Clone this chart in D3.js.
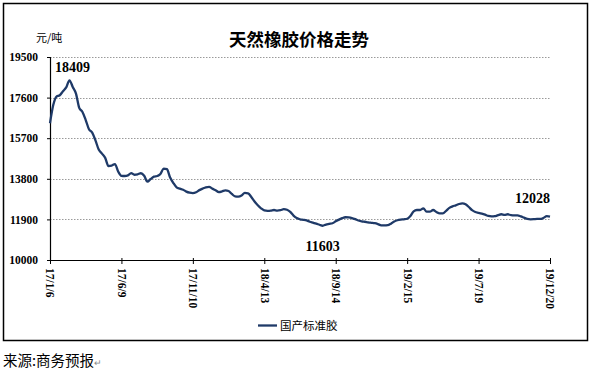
<!DOCTYPE html>
<html><head><meta charset="utf-8">
<script src="https://cdn.jsdelivr.net/npm/d3@7"></script>
<style>body{margin:0;background:#fff}svg{display:block}</style>
</head><body>
<svg id="c" width="591" height="371"></svg>
<script>
const startDate = "2017-01-06";
const prices = [
16400,17250,17650,17710,17900,18080,18409,18100,17790,17120,
16930,16550,16120,15960,15600,15170,14980,14780,14400,14420,
14490,14140,13940,13930,13960,14070,13990,14010,14060,13940,
13665,13790,13900,13930,14020,14280,14250,13860,13600,13400,
13340,13290,13200,13150,13130,13170,13270,13340,13400,13420,
13340,13260,13180,13210,13260,13230,13090,12980,12970,13020,
13140,13120,12950,12740,12560,12420,12320,12300,12310,12340,
12310,12330,12380,12350,12250,12080,11960,11905,11880,11850,
11790,11745,11700,11650,11603,11660,11690,11720,11810,11890,
11960,12000,11990,11960,11910,11850,11810,11790,11760,11740,
11720,11680,11625,11620,11630,11700,11800,11860,11890,11905,
11930,12060,12280,12340,12340,12420,12260,12260,12340,12250,
12180,12180,12300,12440,12510,12560,12620,12650,12610,12480,
12330,12245,12210,12170,12120,12060,12040,12050,12100,12140,
12110,12140,12100,12090,12090,12040,11980,11920,11905,11910,
11920,11920,11970,12050,12028
];
const xTickLabels = ["17/1/6","17/6/9","17/11/10","18/4/13","18/9/14","19/2/15","19/7/19","19/12/20"];
const yTicks = [10000,11900,13800,15700,17600,19500];
const labelPoints = [{v:18409},{v:11603},{v:12028,last:true}];

const parse = d3.timeParse("%Y-%m-%d");
const t0 = parse(startDate);
const dates = prices.map((_, i) => d3.timeDay.offset(t0, 7 * i));
const data = prices.map((v, i) => ({date: dates[i], v}));
const tickDates = xTickLabels.map(s => { const [y,m,d] = s.split("/").map(Number); return new Date(2000 + y, m - 1, d); });

const svg = d3.select("#c");
const L = 50, R = 550, T = 57, B = 260;
const x = d3.scaleTime().domain([dates[0], dates[dates.length - 1]]).range([L, R]);
const y = d3.scaleLinear().domain([10000, 19500]).range([B, T]);

// outer frame
svg.append("rect").attr("x", 3.5).attr("y", 3.5).attr("width", 584).attr("height", 337)
  .attr("fill", "none").attr("stroke", "#000").attr("stroke-width", 1.5);

// grid
svg.append("g").selectAll("line").data(yTicks.filter(d => d > 10000)).join("line")
  .attr("x1", L).attr("x2", R + 1).attr("y1", d => Math.round(y(d)) + 0.5).attr("y2", d => Math.round(y(d)) + 0.5)
  .attr("stroke", "#9a9a9a").attr("stroke-width", 1).attr("stroke-dasharray", "1.5,1.5");

// y axis
const yAxis = svg.append("g").attr("transform", `translate(${L},0)`)
  .call(d3.axisLeft(y).tickValues(yTicks).tickSize(3).tickPadding(9).tickFormat(d3.format("d")));
yAxis.select(".domain").attr("stroke", "#000").attr("stroke-width", 1.2);
yAxis.selectAll("line").attr("stroke", "#000");
yAxis.selectAll("text").attr("font-family", "Liberation Serif").attr("font-weight", "bold")
  .attr("font-size", 11.5).attr("fill", "#000");

// x axis
const xAxis = svg.append("g").attr("transform", `translate(0,${B})`)
  .call(d3.axisBottom(x).tickValues(tickDates).tickSizeInner(4).tickSizeOuter(0)
    .tickFormat((d, i) => xTickLabels[i]));
xAxis.select(".domain").attr("stroke", "#000").attr("stroke-width", 1.2);
xAxis.selectAll("line").attr("stroke", "#000").attr("y1", -2);
xAxis.selectAll("text").attr("font-family", "Liberation Serif").attr("font-weight", "bold")
  .attr("font-size", 11.5).attr("fill", "#000")
  .attr("transform", "rotate(90)").attr("text-anchor", "start")
  .attr("x", 8).attr("y", 0).attr("dy", "0.35em");

// line
svg.append("path").datum(data)
  .attr("d", d3.line().x(d => x(d.date)).y(d => y(d.v)).curve(d3.curveMonotoneX))
  .attr("fill", "none").attr("stroke", "#1f3a68").attr("stroke-width", 2.3).attr("stroke-linejoin", "round");

// data labels
const maxI = d3.maxIndex(prices), minI = d3.minIndex(prices), lastI = prices.length - 1;
const lbl = (i, dx, dy, anchor) => svg.append("text")
  .attr("x", x(dates[i]) + dx).attr("y", y(prices[i]) + dy).attr("text-anchor", anchor)
  .attr("font-family", "Liberation Serif").attr("font-weight", "bold").attr("font-size", 14)
  .attr("fill", "#000").text(prices[i]);
lbl(maxI, 3, -8, "middle");
lbl(minI, 0, 25, "middle");
lbl(lastI, 0, -14, "end");

// title & unit
svg.append("text").attr("x", 299).attr("y", 46).attr("text-anchor", "middle")
  .attr("font-family", "Noto Sans CJK SC").attr("font-weight", "bold").attr("font-size", 17.5)
  .attr("fill", "#000").text("天然橡胶价格走势");
svg.append("text").attr("x", 36).attr("y", 42)
  .attr("font-family", "Noto Sans CJK SC").attr("font-size", 11).attr("fill", "#000").text("元/吨");

// legend
svg.append("line").attr("x1", 258).attr("x2", 277).attr("y1", 325.5).attr("y2", 325.5)
  .attr("stroke", "#1f3a68").attr("stroke-width", 2.3);
svg.append("text").attr("x", 280).attr("y", 330)
  .attr("font-family", "Noto Sans CJK SC").attr("font-size", 11.5).attr("fill", "#000").text("国产标准胶");

// source
const src = svg.append("text").attr("x", 3).attr("y", 366)
  .attr("font-family", "Noto Sans CJK SC").attr("font-size", 14.5).attr("fill", "#000");
src.append("tspan").text("来源:商务预报");
src.append("tspan").attr("font-size", 9).attr("fill", "#888").text("↵");
</script>
</body></html>
